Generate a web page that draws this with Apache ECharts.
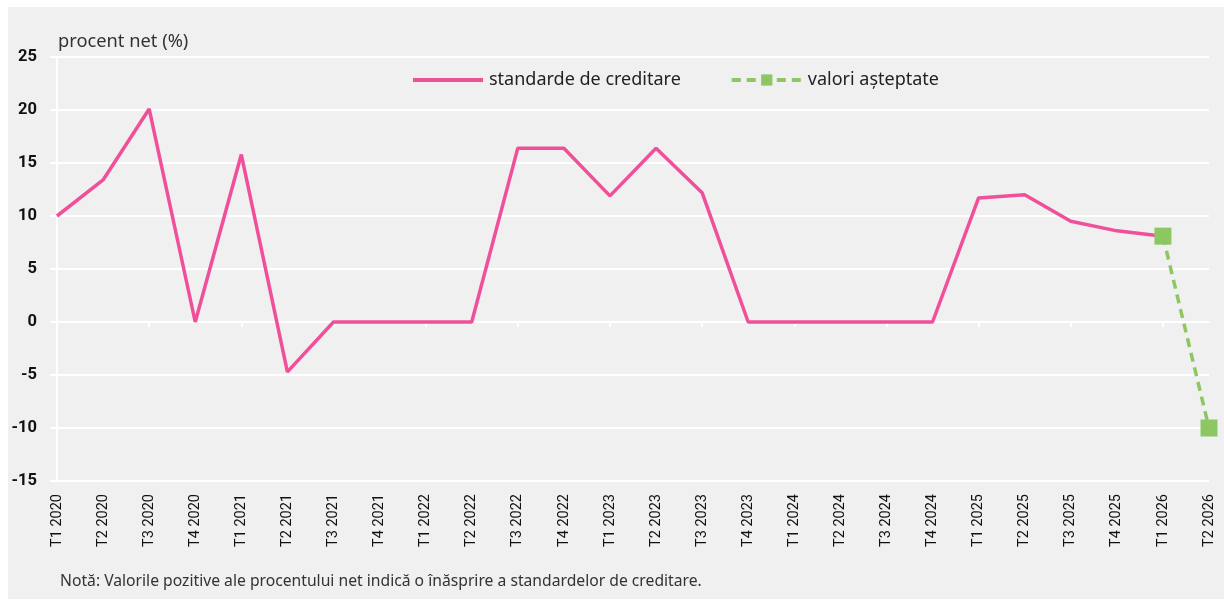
<!DOCTYPE html>
<html>
<head>
<meta charset="utf-8">
<script src="https://cdn.jsdelivr.net/npm/echarts@6/dist/echarts.min.js"></script>
<style>
  html, body { margin: 0; padding: 0; background: #ffffff; }
  #panel { position: absolute; left: 8px; top: 7px; width: 1216px; height: 592px; background: #f0f0f0; }
  #chart { position: absolute; left: 0; top: 0; width: 1224px; height: 601px; }
</style>
</head>
<body>
<div id="panel"></div>
<div id="chart"></div>
<script>
// trimestre
const categories = [
  'T1 2020', 'T2 2020', 'T3 2020', 'T4 2020',
  'T1 2021', 'T2 2021', 'T3 2021', 'T4 2021',
  'T1 2022', 'T2 2022', 'T3 2022', 'T4 2022',
  'T1 2023', 'T2 2023', 'T3 2023', 'T4 2023',
  'T1 2024', 'T2 2024', 'T3 2024', 'T4 2024',
  'T1 2025', 'T2 2025', 'T3 2025', 'T4 2025',
  'T1 2026', 'T2 2026'
];

// standarde de creditare (procent net)
const creditStandards = [
  10, 13.4, 20.1, 0,
  15.8, -4.7, 0, 0,
  0, 0, 16.4, 16.4,
  11.9, 16.4, 12.2, 0,
  0, 0, 0, 0,
  11.7, 12.0, 9.5, 8.6,
  8.1, null
];

// valori asteptate
const expected = [
  null, null, null, null, null, null, null, null, null, null, null, null, null,
  null, null, null, null, null, null, null, null, null, null, null,
  8.1, -10
];

const yMin = -15, yMax = 25, yStep = 5;

const pink = '#f0509a';
const green = '#8dc764';

const chart = echarts.init(document.getElementById('chart'), null, { renderer: 'canvas' });

const option = {
  backgroundColor: 'transparent',
  animation: false,
  grid: { left: 57, right: 15, top: 57, bottom: 120, containLabel: false },
  legend: {
    left: 406,
    top: 66,
    itemWidth: 70,
    itemHeight: 14,
    itemGap: 49,
    lineStyle: { width: 4 },
    textStyle: { fontFamily: 'Noto Sans', fontSize: 18, color: '#222', padding: [0, 0, 0, 1] },
    data: [
      { name: 'standarde de creditare', itemStyle: { color: 'rgba(0,0,0,0)', borderWidth: 0 } },
      'valori așteptate'
    ]
  },
  xAxis: [
    {
      type: 'category',
      data: categories,
      boundaryGap: false,
      axisLine: { onZero: true, lineStyle: { color: '#ffffff', width: 2 } },
      axisTick: { show: true, length: 5, lineStyle: { color: '#ffffff', width: 2 } },
      axisLabel: { show: false }
    },
    {
      type: 'category',
      data: categories,
      boundaryGap: false,
      position: 'bottom',
      axisLine: { show: false, onZero: false },
      axisTick: { show: false },
      axisLabel: {
        rotate: 90,
        margin: 13,
        interval: 0,
        fontFamily: 'Roboto',
        fontSize: 14.5,
        color: '#111'
      }
    }
  ],
  yAxis: {
    type: 'value',
    min: yMin,
    max: yMax,
    interval: yStep,
    axisLine: { show: true, lineStyle: { color: '#ffffff', width: 2 } },
    axisTick: { show: true, length: 7, lineStyle: { color: '#ffffff', width: 2 } },
    splitLine: { lineStyle: { color: '#ffffff', width: 2 } },
    axisLabel: {
      margin: 20,
      fontFamily: 'Roboto',
      fontSize: 16.5,
      fontWeight: 'bold',
      color: '#111'
    }
  },
  graphic: [
    {
      type: 'text',
      left: 58,
      top: 33,
      style: { text: 'procent net (%)', fontFamily: 'Noto Sans', fontSize: 18.3, fill: '#333' }
    },
    {
      type: 'text',
      left: 60,
      top: 574,
      style: {
        text: 'Notă: Valorile pozitive ale procentului net indică o înăsprire a standardelor de creditare.',
        fontFamily: 'Noto Sans',
        fontSize: 15.7,
        fill: '#333'
      }
    }
  ],
  series: [
    {
      name: 'standarde de creditare',
      type: 'line',
      data: creditStandards,
      symbol: 'none',
      lineStyle: { color: pink, width: 3.5 },
      itemStyle: { color: pink },
      z: 3
    },
    {
      name: 'valori așteptate',
      type: 'line',
      data: expected,
      symbol: 'rect',
      symbolSize: 17,
      lineStyle: { color: green, width: 3.5, type: [9, 6] },
      itemStyle: { color: green },
      z: 4
    }
  ]
};

chart.setOption(option);
</script>
</body>
</html>
